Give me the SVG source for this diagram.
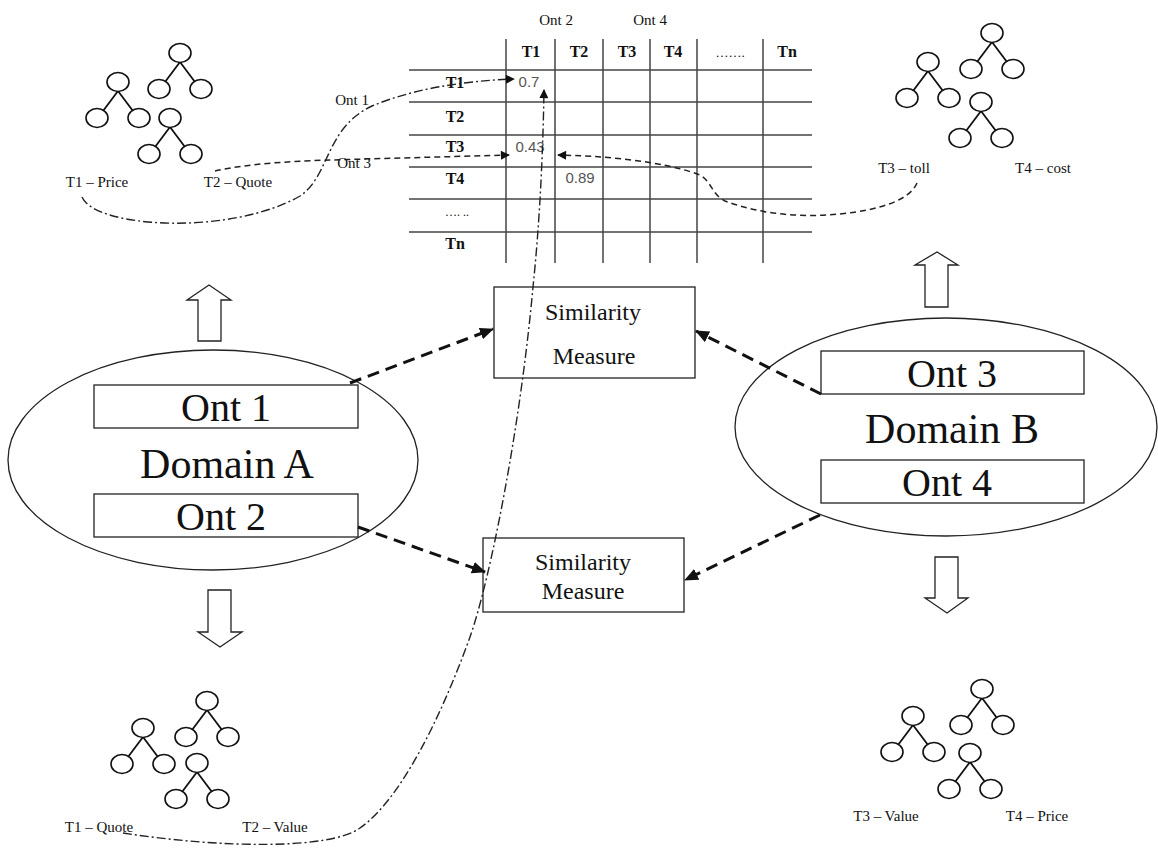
<svg xmlns="http://www.w3.org/2000/svg" width="1158" height="855" viewBox="0 0 1158 855">
  <style>
    .serif { font-family: "Liberation Serif", "Times New Roman", serif; fill: #111; }
    .sans { font-family: "Liberation Sans", Arial, sans-serif; fill: #555; }
    .big { font-size: 40px; text-anchor: middle; }
    .dom { font-size: 42px; text-anchor: middle; }
    .sim { font-size: 24px; text-anchor: middle; }
    .lbl { font-size: 15px; text-anchor: middle; }
    .hdr { font-size: 16px; font-weight: bold; text-anchor: middle; }
    .cell { font-size: 15px; text-anchor: middle; }
    .box { fill: #fff; stroke: #222; stroke-width: 1.3; }
    .ell { fill: #fff; stroke: #222; stroke-width: 1.3; }
    .blk { fill: #fff; stroke: #222; stroke-width: 1.3; stroke-linejoin: miter; }
    .grid line { stroke: #444; stroke-width: 1.5; }
    .thick { fill: none; stroke: #111; stroke-width: 3; stroke-dasharray: 12 7; }
    .dashdot { fill: none; stroke: #222; stroke-width: 1.4; stroke-dasharray: 9 3 2 3; }
    .dashed { fill: none; stroke: #222; stroke-width: 1.5; stroke-dasharray: 6 4; }
    .tree ellipse { fill: #fff; stroke: #111; stroke-width: 1.6; }
    .tree path { stroke: #111; stroke-width: 1.8; fill: none; }
  </style>
  <defs>
    <marker id="bigHead" viewBox="0 0 14 12" refX="13" refY="6" markerWidth="14" markerHeight="12" markerUnits="userSpaceOnUse" orient="auto">
      <path d="M0,0 L14,6 L0,12 Z" fill="#111"/>
    </marker>
    <marker id="smallHead" viewBox="0 0 10 10" refX="9" refY="5" markerWidth="10" markerHeight="9" markerUnits="userSpaceOnUse" orient="auto">
      <path d="M0,0 L10,5 L0,10 Z" fill="#111"/>
    </marker>
    <!-- a three-node tree: root at the origin, two children below -->
    <g id="miniTree" class="tree">
      <path d="M0,9 L-15,29 M0,9 L15,29"/>
      <ellipse cx="0" cy="0" rx="11" ry="9.5"/>
      <ellipse cx="-21" cy="36" rx="11" ry="9.5"/>
      <ellipse cx="21" cy="36" rx="11" ry="9.5"/>
    </g>
  </defs>

  <rect width="1158" height="855" fill="#fff"/>

  <!-- similarity matrix -->
  <g id="matrix">
    <g class="grid">
      <line x1="409" y1="70" x2="812" y2="70"/>
      <line x1="409" y1="102" x2="812" y2="102"/>
      <line x1="409" y1="135" x2="812" y2="135"/>
      <line x1="409" y1="167" x2="812" y2="167"/>
      <line x1="409" y1="199" x2="812" y2="199"/>
      <line x1="409" y1="232" x2="812" y2="232"/>
      <line x1="506" y1="39" x2="506" y2="263"/>
      <line x1="555" y1="39" x2="555" y2="263"/>
      <line x1="603" y1="39" x2="603" y2="263"/>
      <line x1="650" y1="39" x2="650" y2="263"/>
      <line x1="697" y1="39" x2="697" y2="263"/>
      <line x1="763" y1="39" x2="763" y2="263"/>
    </g>
    <text class="serif lbl" x="556" y="25" fill="#333">Ont 2</text>
    <text class="serif lbl" x="650" y="25" fill="#333">Ont 4</text>
    <text class="serif hdr" x="531" y="57">T1</text>
    <text class="serif hdr" x="579" y="57">T2</text>
    <text class="serif hdr" x="627" y="57">T3</text>
    <text class="serif hdr" x="673" y="57">T4</text>
    <text class="serif lbl" x="730" y="57" style="font-size:13px">…….</text>
    <text class="serif hdr" x="787" y="57">Tn</text>
    <text class="serif hdr" x="455" y="88">T1</text>
    <text class="serif hdr" x="455" y="122">T2</text>
    <text class="serif hdr" x="455" y="152">T3</text>
    <text class="serif hdr" x="455" y="184">T4</text>
    <text class="serif lbl" x="457" y="216" style="font-size:12px">…. ..</text>
    <text class="serif hdr" x="455" y="249">Tn</text>
    <text class="sans cell" x="529" y="87">0.7</text>
    <text class="sans cell" x="530" y="152">0.43</text>
    <text class="sans cell" x="580" y="183">0.89</text>
  </g>

  <!-- ontology trees -->
  <g id="trees-ont1">
    <use href="#miniTree" x="118" y="82"/>
    <use href="#miniTree" x="180" y="53"/>
    <use href="#miniTree" x="170" y="118"/>
    <text class="serif lbl" x="97" y="187">T1 – Price</text>
    <text class="serif lbl" x="238" y="187">T2 – Quote</text>
  </g>
  <g id="trees-ont3">
    <use href="#miniTree" x="928" y="62"/>
    <use href="#miniTree" x="992" y="33"/>
    <use href="#miniTree" x="981" y="102"/>
    <text class="serif lbl" x="904" y="173">T3 – toll</text>
    <text class="serif lbl" x="1043" y="173">T4 – cost</text>
  </g>
  <g id="trees-ont2">
    <use href="#miniTree" x="143" y="728"/>
    <use href="#miniTree" x="207" y="701"/>
    <use href="#miniTree" x="197" y="763"/>
    <text class="serif lbl" x="99" y="832">T1 – Quote</text>
    <text class="serif lbl" x="275" y="832">T2 – Value</text>
  </g>
  <g id="trees-ont4">
    <use href="#miniTree" x="913" y="716"/>
    <use href="#miniTree" x="982" y="689"/>
    <use href="#miniTree" x="970" y="753"/>
    <text class="serif lbl" x="886" y="821">T3 – Value</text>
    <text class="serif lbl" x="1037" y="821">T4 – Price</text>
  </g>

  <!-- block arrows from the domains to their trees -->
  <g id="block-arrows">
    <path class="blk" d="M187,300 L209,285 L231,300 L221,300 L221,341 L198,341 L198,300 Z"/>
    <path class="blk" d="M208,590 L231,590 L231,632 L242,632 L220,647 L198,632 L208,632 Z"/>
    <path class="blk" d="M915,265 L937,252 L958,265 L948,265 L948,307 L925,307 L925,265 Z"/>
    <path class="blk" d="M935,557 L958,557 L958,598 L968,598 L947,613 L925,598 L935,598 Z"/>
  </g>

  <!-- Domain A -->
  <g id="domainA">
    <ellipse class="ell" cx="213" cy="460" rx="205" ry="110"/>
    <rect class="box" x="94" y="385" width="264" height="43"/>
    <text class="serif big" x="226" y="421">Ont 1</text>
    <text class="serif dom" x="227" y="478">Domain A</text>
    <rect class="box" x="94" y="494" width="264" height="43"/>
    <text class="serif big" x="221" y="530">Ont 2</text>
  </g>

  <!-- Domain B -->
  <g id="domainB">
    <ellipse class="ell" cx="946" cy="427" rx="211" ry="109"/>
    <rect class="box" x="821" y="351" width="263" height="43"/>
    <text class="serif big" x="952" y="387">Ont 3</text>
    <text class="serif dom" x="952" y="443">Domain B</text>
    <rect class="box" x="821" y="460" width="263" height="43"/>
    <text class="serif big" x="947" y="496">Ont 4</text>
  </g>

  <!-- similarity measures -->
  <g id="sim1">
    <rect class="box" x="494" y="287" width="201" height="91"/>
    <text class="serif sim" x="593" y="320">Similarity</text>
    <text class="serif sim" x="594" y="364">Measure</text>
  </g>
  <g id="sim2">
    <rect class="box" x="483" y="538" width="201" height="74"/>
    <text class="serif sim" x="583" y="570">Similarity</text>
    <text class="serif sim" x="583" y="599">Measure</text>
  </g>

  <!-- connectors -->
  <g id="connectors">
    <path class="thick" d="M350,383 L493,329" marker-end="url(#bigHead)"/>
    <path class="thick" d="M358,527 L485,572" marker-end="url(#bigHead)"/>
    <path class="thick" d="M821,394 L696,331" marker-end="url(#bigHead)"/>
    <path class="thick" d="M820,515 L685,580" marker-end="url(#bigHead)"/>

    <path class="dashdot" d="M82,197 C95,228 230,236 300,196 C330,176 325,128 372,106 C410,90 460,81 514,79" marker-end="url(#smallHead)"/>
    <path class="dashed" d="M215,171 C250,163 300,161 330,160 L509,155" marker-end="url(#smallHead)"/>
    <path class="dashed" d="M917,183 C910,200 880,210 840,214 C800,218 760,214 725,201 C712,195 712,182 700,175 C660,160 600,156 558,155" marker-end="url(#smallHead)"/>
    <path class="dashdot" d="M123,833 C220,848 330,850 360,828 C400,800 440,720 470,637 C490,580 520,430 533,287 C540,220 543,150 544,90" marker-end="url(#smallHead)"/>

    <text class="serif lbl" x="352" y="105" fill="#333">Ont 1</text>
    <text class="serif lbl" x="354" y="168" fill="#333">Ont 3</text>
  </g>
</svg>
